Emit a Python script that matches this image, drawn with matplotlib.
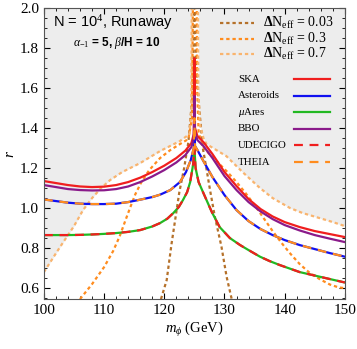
import matplotlib
matplotlib.use("Agg")
import matplotlib.pyplot as plt
import numpy as np

plt.rcParams['font.family'] = ['Liberation Serif', 'DejaVu Serif']
plt.rcParams['mathtext.fontset'] = 'custom'
plt.rcParams['mathtext.rm'] = 'Liberation Serif'
plt.rcParams['mathtext.it'] = 'Liberation Serif:italic'
plt.rcParams['mathtext.bf'] = 'Liberation Serif:bold'

# ---- data (m_phi in GeV, r) ----
# Delta N_eff contours, left and right branches
dn003_m = [119.45, 120.4, 121.2, 121.8, 122.5, 123.3, 124.0, 124.5, 124.8, 124.95,
           125.08, 125.3, 125.8, 126.4, 127.1, 127.6, 128.4, 129.5, 130.35, 131.2]
dn003_r = [0.545, 0.64, 0.82, 0.94, 1.08, 1.20, 1.33, 1.50, 1.70, 2.0,
           2.0, 1.70, 1.50, 1.30, 1.18, 1.09, 0.957, 0.807, 0.657, 0.545]

dn03_m = [106.0, 108.0, 110.0, 111.5, 112.6, 113.5, 114.3, 115.2, 116.2, 117.5, 119.3,
          121.0, 122.6, 124.0, 124.6, 124.75,
          125.4, 125.45, 125.7, 126.3, 127.5, 129.0, 130.5, 132.0, 133.5, 135.0, 136.5,
          138.0, 139.5, 141.0, 142.5, 144.0, 145.8, 147.5, 149.0, 150.0]
dn03_r = [0.545, 0.62, 0.705, 0.785, 0.86, 0.935, 1.0, 1.07, 1.13, 1.19, 1.25,
          1.29, 1.32, 1.345, 1.45, 2.0,
          2.0, 1.60, 1.38, 1.31, 1.27, 1.225, 1.18, 1.13, 1.075, 1.015, 0.95,
          0.885, 0.825, 0.77, 0.72, 0.68, 0.645, 0.618, 0.603, 0.60]

dn07_m = [100.0, 101.0, 102.0, 103.0, 104.0, 105.0, 106.5, 108.0, 109.5, 111.0, 113.0, 116.0,
          119.3, 122.6, 124.2, 124.5, 124.55,
          125.6, 125.65, 125.9, 126.5, 127.0, 130.3, 133.0, 135.9, 138.0, 140.9,
          143.0, 145.8, 148.0, 150.0]
dn07_r = [0.68, 0.727, 0.774, 0.82, 0.865, 0.91, 0.99, 1.05, 1.10, 1.14, 1.18, 1.225,
          1.285, 1.335, 1.37, 1.50, 2.0,
          2.0, 1.60, 1.42, 1.35, 1.32, 1.26, 1.18, 1.10, 1.05, 1.00,
          0.975, 0.95, 0.93, 0.91]

# detector sensitivity curves
ska_m = [100, 102, 104, 106, 108, 110, 112, 114, 116, 118, 120, 122, 123.5, 124.5, 124.9, 125.0,
         125.1, 125.5, 126.5, 128, 130, 132, 134, 136, 138, 140, 142.5, 145, 147.5, 150]
ska_r = [1.135, 1.125, 1.115, 1.108, 1.105, 1.107, 1.115, 1.13, 1.152, 1.18, 1.212, 1.25, 1.287, 1.325, 1.37, 1.75,
         1.40, 1.36, 1.33, 1.27, 1.18, 1.11, 1.045, 0.995, 0.958, 0.93, 0.905, 0.885, 0.87, 0.855]

bbo_m = ska_m
bbo_r = [1.115, 1.105, 1.095, 1.09, 1.088, 1.089, 1.095, 1.108, 1.13, 1.158, 1.19, 1.228, 1.265, 1.305, 1.35, 1.56,
         1.38, 1.34, 1.31, 1.25, 1.16, 1.09, 1.03, 0.983, 0.945, 0.915, 0.888, 0.865, 0.847, 0.83]

ast_m = [100, 102, 104, 106, 108, 110, 112, 114, 116, 118, 119.3, 121, 122.6, 123.6, 124.4, 124.9, 125.0,
         125.1, 125.5, 126.5, 128, 130, 132, 134, 136, 138, 140, 142.5, 145, 147.5, 150]
ast_r = [1.043, 1.035, 1.027, 1.022, 1.02, 1.02, 1.022, 1.03, 1.042, 1.055, 1.067, 1.09, 1.13, 1.18, 1.24, 1.30, 1.45,
         1.31, 1.29, 1.235, 1.155, 1.065, 0.99, 0.935, 0.895, 0.865, 0.84, 0.815, 0.795, 0.775, 0.757]

mua_m = [100, 102, 104, 106, 108, 110, 112, 114, 116, 118, 119.3, 120.5, 121.5, 122.4, 123.1, 123.8, 124.3, 124.8, 125.0,
         125.2, 125.7, 126.5, 127.9, 129.2, 130.9, 132.6, 134, 135.9, 137.5, 139.2, 142.5, 145.8, 150]
mua_r = [0.865, 0.865, 0.865, 0.866, 0.868, 0.871, 0.875, 0.881, 0.89, 0.908, 0.925, 0.947, 0.975, 1.005, 1.04, 1.08, 1.13, 1.22, 1.30,
         1.20, 1.13, 1.075, 0.98, 0.905, 0.85, 0.815, 0.79, 0.757, 0.735, 0.715, 0.68, 0.657, 0.628]

udecigo_m, udecigo_r = mua_m, mua_r
theia_m, theia_r = ast_m, ast_r

dn_labels = ['0.03', '0.3', '0.7']
det_labels = ['SKA', 'Asteroids', r'$\mu$Ares', 'BBO', 'UDECIGO', 'THEIA']

c_dn = ['#B5712A', '#FF8C1E', '#F9B46E']
c_red, c_blue, c_green, c_purple, c_orange = '#F01E1E', '#1010F0', '#22B822', '#8A1A8A', '#FF8C1E'

fig = plt.figure(figsize=(3.57, 3.49), dpi=100)
ax = fig.add_axes([0.123, 0.143, 0.843, 0.834])

# excluded region above the Delta N_eff = 0.7 curve
k = dn07_m.index(124.55) + 1
ax.fill_between(dn07_m[:k], dn07_r[:k], 2.0, color='#EDEDED', lw=0)
ax.fill_between(dn07_m[k:], dn07_r[k:], 2.0, color='#EDEDED', lw=0)

dot = (0, (1.5, 1.3))
dash = (0, (4, 3))
lw = 1.6
dn_style = []
for mm, rr, c in zip([dn003_m, dn03_m, dn07_m], [dn003_r, dn03_r, dn07_r], c_dn):
    ax.plot(mm, rr, color=c, lw=1.6, ls=dot, dash_capstyle='butt')
    dn_style.append(dict(color=c, lw=1.6, ls=dot))

det_data = [(ska_m, ska_r, dict(color=c_red, lw=lw, ls='-')),
            (ast_m, ast_r, dict(color=c_blue, lw=lw, ls='-')),
            (mua_m, mua_r, dict(color=c_green, lw=lw, ls='-')),
            (bbo_m, bbo_r, dict(color=c_purple, lw=lw, ls='-')),
            (udecigo_m, udecigo_r, dict(color=c_red, lw=lw, ls=dash)),
            (theia_m, theia_r, dict(color=c_orange, lw=lw, ls=dash))]
for mm, rr, st in det_data:
    ax.plot(mm, rr, **st)

ax.set_xlim(100, 150)
ax.set_ylim(0.545, 2.0)
ax.set_xticks(np.arange(100, 151, 10))
ax.set_yticks(np.arange(0.6, 2.01, 0.2))
ax.set_xticks(np.arange(100, 151, 2), minor=True)
ax.set_yticks(np.arange(0.55, 2.01, 0.05), minor=True)
ax.yaxis.set_major_formatter(matplotlib.ticker.FormatStrFormatter('%.1f'))
ax.tick_params(which='both', direction='in', top=True, right=True, labelsize=11)
ax.tick_params(which='major', length=4, width=0.8)
ax.tick_params(which='minor', length=2, width=0.6)
for s in ax.spines.values():
    s.set_color('#555555')

ax.set_xlabel(r'$m_\phi$ (GeV)', fontsize=10.5, labelpad=2)
ax.set_ylabel(r'$r$', fontsize=11, labelpad=2)

ax.text(0.03, 0.95, r'N = 10$^4$, Runaway', transform=ax.transAxes, fontsize=10.5,
        family='Liberation Sans', va='center')
ax.text(0.095, 0.88, r'$\alpha_{-1}$ = 5, $\beta$/H = 10', transform=ax.transAxes, fontsize=8.5,
        family='Liberation Sans', weight='bold', va='center')

# legends drawn by hand so the label columns line up as in the reference
tr = ax.transAxes
for i, (lab, st) in enumerate(zip(dn_labels, dn_style)):
    y = 0.948 - i * 0.053
    ax.plot([0.585, 0.698], [y, y], transform=tr, dash_capstyle='butt', **st)
    ax.text(0.728, y, r'$\mathbf{\Delta}$N$_{\rm eff}$ = ' + lab, transform=tr,
            fontsize=10, va='center')

for i, (lab, (_, _, st)) in enumerate(zip(det_labels, det_data)):
    y = 0.756 - i * 0.057
    ax.plot([0.83, 0.95], [y, y], transform=tr, **st)
    ax.text(0.645, y, lab, transform=tr, fontsize=7.8, va='center')

fig.savefig('out.png', dpi=100)
